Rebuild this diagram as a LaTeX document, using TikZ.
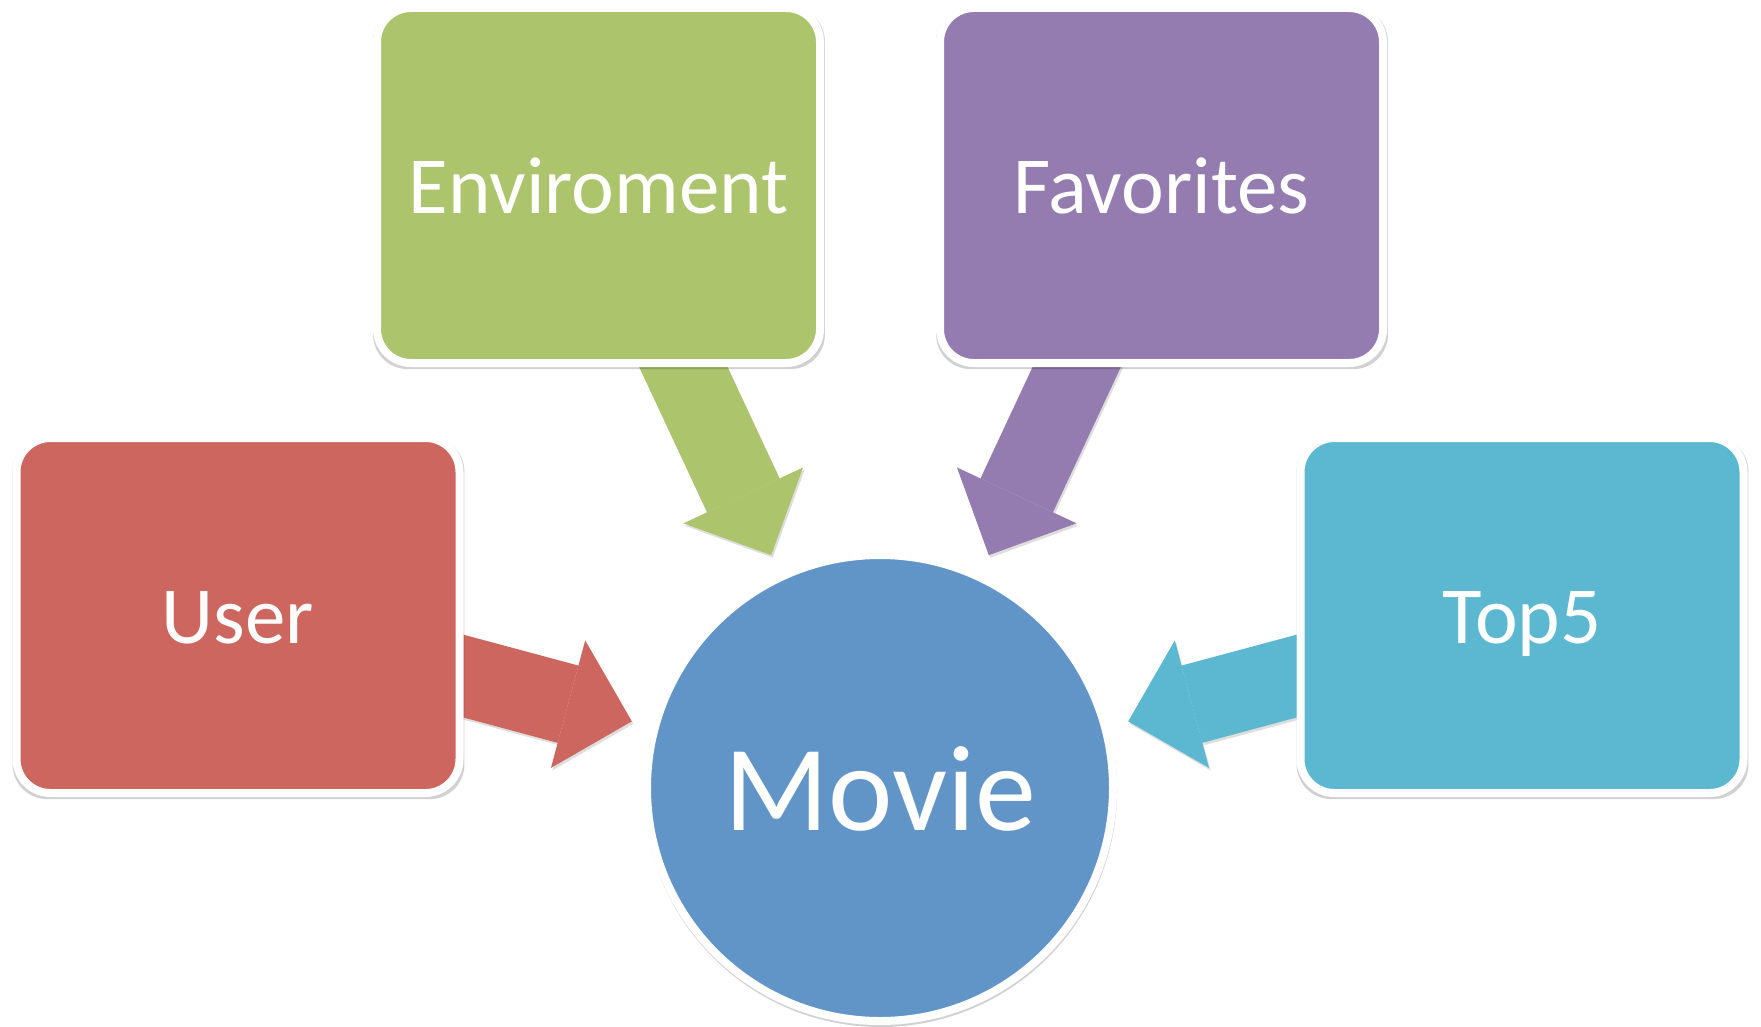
\documentclass[tikz,border=0pt]{standalone}
\usepackage{fontspec}
\setmainfont{Carlito}
\usepackage{tikz}
\usetikzlibrary{arrows.meta, shadows, backgrounds}

\definecolor{userRed}{RGB}{205,102,94}
\definecolor{envGreen}{RGB}{172,196,108}
\definecolor{favPurple}{RGB}{148,123,176}
\definecolor{topCyan}{RGB}{91,184,208}
\definecolor{movieBlue}{RGB}{97,149,199}

\tikzset{
	block/.style={rectangle, rounded corners=34pt, draw=white, line width=8pt,
		minimum width=443pt, minimum height=355pt, inner sep=0pt, text=white,
		font=\fontsize{81}{97}\selectfont, text height=56pt, text depth=0pt,
		drop shadow={shadow xshift=0.5pt, shadow yshift=-2.5pt, shadow scale=1.02, fill=black, opacity=0.18}},
	hub/.style={circle, draw=white, line width=8pt, minimum size=466pt,
		inner sep=0pt, text=white,
		font=\fontsize{122}{146}\selectfont, text height=84pt, text depth=0pt,
		drop shadow={shadow xshift=0.5pt, shadow yshift=-2.5pt, shadow scale=1.015, fill=black, opacity=0.18}},
	feed/.style={line width=80pt, -{Triangle[length=66pt, width=132pt, line width=0pt]}, shorten >=20pt},
	feedshadow/.style={feed, draw=black!13, transform canvas={xshift=1.5pt, yshift=-2.5pt}}
}

\begin{document}
\begin{tikzpicture}[x=1pt, y=1pt]
	\useasboundingbox (0,0) rectangle (1761,-1027);
	
	% Blocks
	\node[block, fill=userRed] (user) at (238,-615.5) {User};
	\node[block, fill=envGreen] (env) at (598.5,-185.5) {Enviroment};
	\node[block, fill=favPurple] (fav) at (1161.5,-185.5) {Favorites};
	\node[block, fill=topCyan] (top) at (1522,-615.5) {Top5};
	
	% Center
	\node[hub, fill=movieBlue] (movie) at (880,-788) {Movie};
	
	% Arrows
	\begin{scope}[on background layer]
		\draw[feedshadow] (user.center) -- (movie);
		\draw[feedshadow] (env.center) -- (movie);
		\draw[feedshadow] (fav.center) -- (movie);
		\draw[feedshadow] (top.center) -- (movie);
		
		\draw[feed, draw=userRed] (user.center) -- (movie);
		\draw[feed, draw=envGreen] (env.center) -- (movie);
		\draw[feed, draw=favPurple] (fav.center) -- (movie);
		\draw[feed, draw=topCyan] (top.center) -- (movie);
	\end{scope}
\end{tikzpicture}
\end{document}
